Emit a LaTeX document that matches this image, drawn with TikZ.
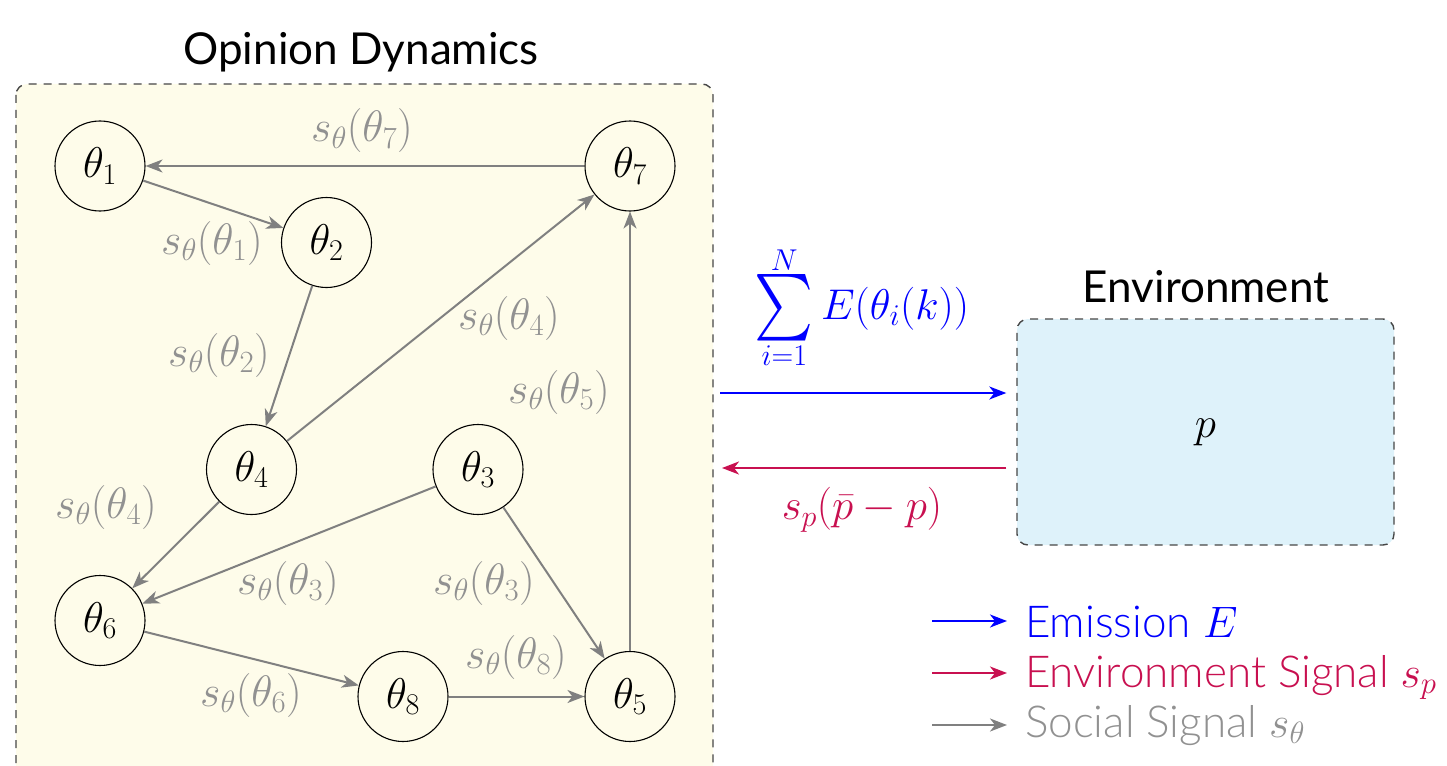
\RequirePackage{fix-cm}
\documentclass[tikz,border=0pt]{standalone}
\usepackage{exscale}
\usepackage{graphicx}
\usepackage{fontspec}
\setmainfont{Lato}
\newfontfamily\legfont{Lato Light}
\usetikzlibrary{arrows.meta}
\definecolor{odfill}{RGB}{254,252,234}
\definecolor{envfill}{RGB}{222,242,250}
\definecolor{sigred}{RGB}{200,16,80}
\definecolor{sigblue}{RGB}{0,0,255}
\definecolor{arrgray}{RGB}{128,128,128}
\definecolor{labgray}{RGB}{145,145,145}
\definecolor{boxline}{RGB}{70,70,70}
\newcommand{\bigsigma}{\mathop{\vcenter{\hbox{\resizebox{59pt}{62pt}{$\sum$}}}}}
\tikzset{
  opn/.style={circle,draw=black,line width=1.1pt,minimum size=90pt,inner sep=0pt,font=\fontsize{43}{49}\selectfont},
  tip/.style={-{Stealth[length=17pt,width=13pt,inset=5pt]}},
  sig/.style={draw=arrgray,line width=2pt,tip},
  lab/.style={text=labgray,font=\fontsize{44}{50}\selectfont,inner sep=0pt},
  ttl/.style={font=\fontsize{44}{52}\selectfont,anchor=base,inner sep=0pt},
  dbox/.style={draw=boxline,line width=1.4pt,dash pattern=on 8pt off 7pt,rounded corners=11pt},
  leg/.style={font=\fontsize{44}{50}\legfont\selectfont,anchor=base west,inner sep=0pt},
}
\begin{document}
\begin{tikzpicture}[x=1pt,y=-1pt]
\useasboundingbox (0,0) rectangle (1447,765);
% opinion dynamics box (cut at bottom)
\begin{scope}
\clip (0,0) rectangle (1447,765);
\path[dbox,fill=odfill] (16,84) rectangle (713,820);
\end{scope}
\node[ttl] (odt) at (361,65) {Opinion Dynamics};
% environment
\node[dbox,fill=envfill,minimum width=377pt,minimum height=226pt,inner sep=0pt] (env) at (1205.5,432) {\fontsize{43}{49}\selectfont$p$};
\node[ttl] (envt) at (1206,302) {Environment};
% opinion nodes
\node[opn] (t1) at (100,166) {$\theta_1$};
\node[opn] (t7) at (630,166) {$\theta_7$};
\node[opn] (t2) at (326.5,242.5) {$\theta_2$};
\node[opn] (t4) at (251.5,469.5) {$\theta_4$};
\node[opn] (t3) at (478,469.5) {$\theta_3$};
\node[opn] (t6) at (100,620.5) {$\theta_6$};
\node[opn] (t8) at (403,696.5) {$\theta_8$};
\node[opn] (t5) at (630,696.5) {$\theta_5$};
% social signals
\draw[sig] (t7) -- (t1);
\draw[sig] (t1) -- (t2);
\draw[sig] (t2) -- (t4);
\draw[sig] (t4) -- (t7);
\draw[sig] (t5) -- (t7);
\draw[sig] (t4) -- (t6);
\draw[sig] (t3) -- (t6);
\draw[sig] (t3) -- (t5);
\draw[sig] (t6) -- (t8);
\draw[sig] (t8) -- (t5);
% labels
\node[lab] (l7) at (362,131) {$s_\theta(\theta_7)$};
\node[lab] (l1) at (212,243) {$s_\theta(\theta_1)$};
\node[lab] (l2) at (219,355) {$s_\theta(\theta_2)$};
\node[lab] (l4a) at (509,318) {$s_\theta(\theta_4)$};
\node[lab] (l5) at (559,392) {$s_\theta(\theta_5)$};
\node[lab] (l4b) at (106,507) {$s_\theta(\theta_4)$};
\node[lab] (l3a) at (288,583) {$s_\theta(\theta_3)$};
\node[lab] (l3b) at (484,583) {$s_\theta(\theta_3)$};
\node[lab] (l8) at (516,657) {$s_\theta(\theta_8)$};
\node[lab] (l6) at (251,695) {$s_\theta(\theta_6)$};
% emission / environment signal
\coordinate (eo) at (720,393);
\coordinate (ro) at (722,468);
\draw[draw=sigblue,line width=2pt,tip,shorten >=10pt] (eo) -- (env.west |- eo);
\draw[draw=sigred,line width=2pt,tip] ([xshift=-10pt]env.west |- ro) -- (ro);
\node[text=sigblue,font=\fontsize{43}{49}\selectfont,inner sep=0pt,anchor=base] (sumlab) at (862,319) {$\displaystyle\bigsigma\limits_{i=1}^{N} E(\theta_i(k))$};
\node[text=sigred,font=\fontsize{43}{49}\selectfont,inner sep=0pt] (splab) at (862,510) {$s_p(\bar{p}-p)$};
% legend
\node[leg,text=sigblue] (lg1) at (1025,637) {Emission $E$};
\node[leg,text=sigred] (lg2) at (1025,687) {Environment Signal $s_p$};
\node[leg,text=labgray] (lg3) at (1025,737) {Social Signal $s_\theta$};
\coordinate (a1) at (932,621);
\coordinate (a2) at (932,673);
\coordinate (a3) at (932,725);
\draw[draw=sigblue,line width=2pt,tip] (a1) -- ([xshift=-18pt]lg1.west |- a1);
\draw[draw=sigred,line width=2pt,tip] (a2) -- ([xshift=-18pt]lg2.west |- a2);
\draw[draw=arrgray,line width=2pt,tip] (a3) -- ([xshift=-18pt]lg3.west |- a3);
\end{tikzpicture}
\end{document}
